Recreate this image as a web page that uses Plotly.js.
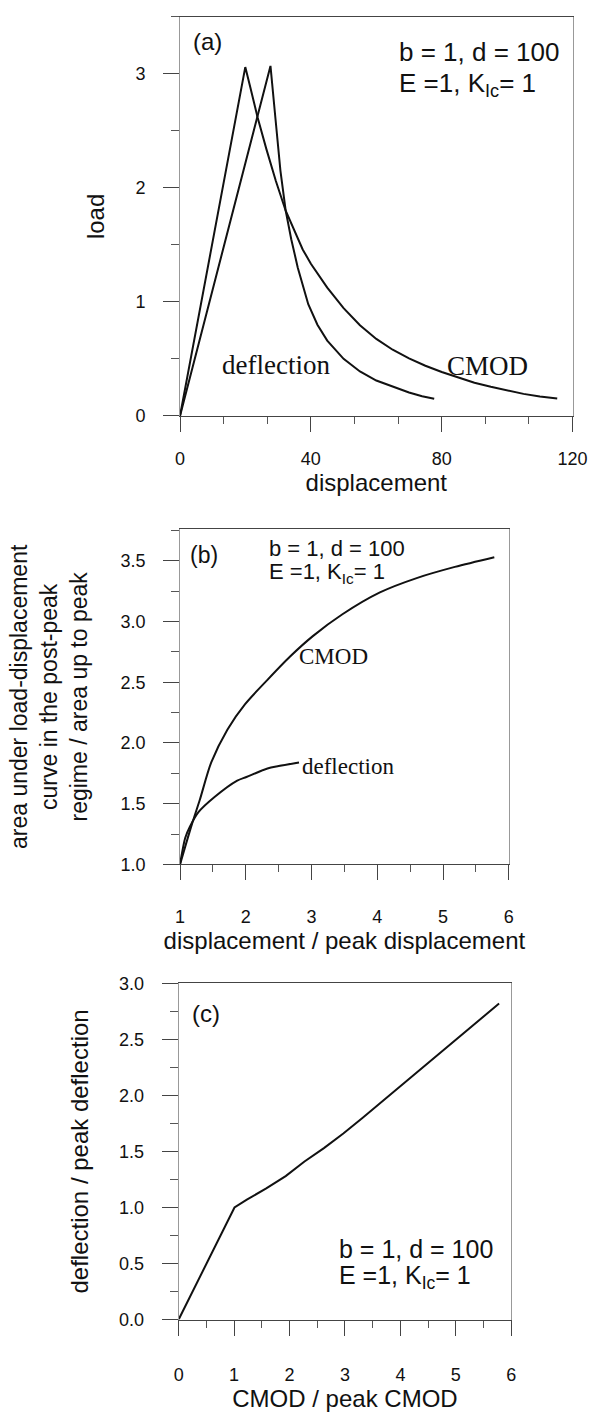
<!DOCTYPE html>
<html>
<head>
<meta charset="utf-8">
<script src="https://cdn.plot.ly/plotly-3.0.1.min.js"></script>
<style>html,body{margin:0;padding:0;background:#fff;}#chart{width:605px;height:1414px;}</style>
</head>
<body>
<div id="chart"></div>
<script>
// Panel (a): load vs displacement
const aCmodX = [0, 19.95, 21.5, 23.7, 26.4, 29.3, 32.3, 35, 37.5, 40, 42.5, 45, 50, 55, 60, 65, 70, 75, 80, 85, 90, 95, 100, 105, 110, 115.3];
const aCmodY = [0, 3.06, 2.88, 2.62, 2.34, 2.06, 1.80, 1.615, 1.46, 1.335, 1.225, 1.125, 0.945, 0.795, 0.675, 0.58, 0.505, 0.44, 0.385, 0.335, 0.29, 0.255, 0.222, 0.193, 0.17, 0.153];
const aDefX = [0, 27.65, 29.2, 30.7, 32.3, 34, 36, 37.5, 39.2, 42, 45, 50, 55, 60, 65, 70, 74, 77.7];
const aDefY = [0, 3.07, 2.60, 2.15, 1.80, 1.55, 1.30, 1.14, 0.98, 0.80, 0.66, 0.50, 0.39, 0.31, 0.255, 0.205, 0.172, 0.15];

// Panel (b): area ratio vs displacement / peak displacement
const bCmodX = [1, 1.18, 1.3, 1.475, 1.72, 1.99, 2.33, 2.67, 3.02, 3.47, 4.04, 4.61, 5.18, 5.78];
const bCmodY = [1, 1.33, 1.53, 1.84, 2.11, 2.32, 2.52, 2.71, 2.88, 3.06, 3.24, 3.36, 3.45, 3.53];
const bDefX = [1, 1.08, 1.15, 1.28, 1.525, 1.87, 2.01, 2.33, 2.5, 2.81];
const bDefY = [1, 1.22, 1.31, 1.43, 1.555, 1.69, 1.72, 1.79, 1.81, 1.84];

// Panel (c): deflection / peak deflection vs CMOD / peak CMOD
const cX = [0, 1.007, 1.23, 1.58, 1.93, 2.27, 2.62, 2.97, 3.32, 3.67, 4.25, 5.0, 5.78];
const cY = [0, 1.0, 1.07, 1.17, 1.28, 1.41, 1.53, 1.66, 1.80, 1.945, 2.18, 2.49, 2.82];

const params1 = 'b = 1, d = 100';
const params2 = 'E =1, K<sub>Ic</sub>= 1';

const sans = 'Liberation Sans, Arial, sans-serif';
const serif = 'Liberation Serif, Times New Roman, serif';
const lineStyle = {color: '#111', width: 2};
const smoothLine = {color: '#111', width: 2, shape: 'spline', smoothing: 0.8};

const traces = [
  {x: aDefX, y: aDefY, xaxis: 'x', yaxis: 'y', mode: 'lines', line: lineStyle, name: 'deflection'},
  {x: aCmodX, y: aCmodY, xaxis: 'x', yaxis: 'y', mode: 'lines', line: lineStyle, name: 'CMOD'},
  {x: bCmodX, y: bCmodY, xaxis: 'x2', yaxis: 'y2', mode: 'lines', line: smoothLine, name: 'CMOD'},
  {x: bDefX, y: bDefY, xaxis: 'x2', yaxis: 'y2', mode: 'lines', line: smoothLine, name: 'deflection'},
  {x: cX, y: cY, xaxis: 'x3', yaxis: 'y3', mode: 'lines', line: lineStyle, name: 'deflection vs CMOD'}
];

function xax(opts) {
  return Object.assign({
    showline: true, linecolor: '#444', linewidth: 1, mirror: true,
    ticks: 'outside', ticklen: 15, tickcolor: '#444', tickwidth: 1,
    showgrid: false, zeroline: false, automargin: true,
    ticklabelstandoff: 22,
    tickfont: {family: sans, size: 18, color: '#111'}
  }, opts);
}
function yax(opts) {
  return Object.assign({
    showline: true, linecolor: '#999', linewidth: 1, mirror: true,
    ticks: 'outside', ticklen: 16, tickcolor: '#444', tickwidth: 1,
    showgrid: false, zeroline: false, automargin: true,
    ticklabelstandoff: 14,
    tickfont: {family: sans, size: 18, color: '#111'}
  }, opts);
}
const W = 605, H = 1414;
function dx(a, b) { return [a / W, b / W]; }
function dy(top, bottom) { return [1 - bottom / H, 1 - top / H]; }

const layout = {
  width: W, height: H,
  margin: {l: 0, r: 0, t: 0, b: 0},
  paper_bgcolor: '#fff', plot_bgcolor: '#fff',
  showlegend: false,
  xaxis: xax({domain: dx(181, 587), anchor: 'y', range: [0, 120], dtick: 40, tick0: 0,
    ticklabelstandoff: 12,
    minor: {ticks: 'outside', ticklen: 7, tickcolor: '#555', dtick: 40 / 3, tick0: 0},
    title: {text: 'displacement', font: {family: sans, size: 24, color: '#111'}, standoff: 4}}),
  yaxis: yax({domain: dy(7, 411.7), anchor: 'x', range: [0, 3.5], dtick: 1, tick0: 0,
    minor: {ticks: 'outside', ticklen: 8, tickcolor: '#555', dtick: 0.5, tick0: 0},
    title: {text: 'load', font: {family: sans, size: 24, color: '#111'}, standoff: 23}}),
  xaxis2: xax({domain: dx(181, 521), anchor: 'y2', range: [1, 6], dtick: 1, tick0: 0,
    ticklabelstandoff: 21,
    minor: {ticks: 'outside', ticklen: 7, tickcolor: '#555', dtick: 0.5, tick0: 0},
    title: {text: 'displacement / peak displacement', font: {family: sans, size: 24, color: '#111'}, standoff: 0}}),
  yaxis2: yax({domain: dy(526.7, 866.7), anchor: 'x2', range: [1, 3.76], dtick: 0.5, tick0: 0, tickformat: '.1f',
    minor: {ticks: 'outside', ticklen: 8, tickcolor: '#555', dtick: 0.25, tick0: 0},
    title: {text: 'area under load-displacement<br>curve in the post-peak<br>regime / area up to peak', font: {family: sans, size: 23, color: '#111'}, standoff: 26}}),
  xaxis3: xax({domain: dx(179.6, 523.6), anchor: 'y3', range: [0, 6], dtick: 1, tick0: 0,
    ticklabelstandoff: 24,
    minor: {ticks: 'outside', ticklen: 7, tickcolor: '#555', dtick: 0.5, tick0: 0},
    title: {text: 'CMOD / peak CMOD', font: {family: sans, size: 24, color: '#111'}, standoff: 2}}),
  yaxis3: yax({domain: dy(987.3, 1328.3), anchor: 'x3', range: [0, 3], dtick: 0.5, tick0: 0, tickformat: '.1f',
    minor: {ticks: 'outside', ticklen: 8, tickcolor: '#555', dtick: 0.25, tick0: 0},
    title: {text: 'deflection / peak deflection', font: {family: sans, size: 24, color: '#111'}, standoff: 23}}),
  annotations: [
    {xref: 'x', yref: 'y', x: 8.3, y: 3.28, text: '(a)', showarrow: false, xanchor: 'center', yanchor: 'middle', font: {family: sans, size: 24, color: '#111'}},
    {xref: 'x', yref: 'y', x: 66.4, y: 3.19, text: params1, showarrow: false, xanchor: 'left', yanchor: 'middle', font: {family: sans, size: 26, color: '#111'}},
    {xref: 'x', yref: 'y', x: 66.4, y: 2.91, text: params2, showarrow: false, xanchor: 'left', yanchor: 'middle', font: {family: sans, size: 26, color: '#111'}},
    {xref: 'x', yref: 'y', x: 29.2, y: 0.45, text: 'deflection', showarrow: false, xanchor: 'center', yanchor: 'middle', font: {family: serif, size: 27, color: '#111'}},
    {xref: 'x', yref: 'y', x: 94, y: 0.44, text: 'CMOD', showarrow: false, xanchor: 'center', yanchor: 'middle', font: {family: serif, size: 27, color: '#111'}},

    {xref: 'x2', yref: 'y2', x: 1.36, y: 3.55, text: '(b)', showarrow: false, xanchor: 'center', yanchor: 'middle', font: {family: sans, size: 23, color: '#111'}},
    {xref: 'x2', yref: 'y2', x: 2.33, y: 3.6, text: params1, showarrow: false, xanchor: 'left', yanchor: 'middle', font: {family: sans, size: 22, color: '#111'}},
    {xref: 'x2', yref: 'y2', x: 2.33, y: 3.40, text: params2, showarrow: false, xanchor: 'left', yanchor: 'middle', font: {family: sans, size: 22, color: '#111'}},
    {xref: 'x2', yref: 'y2', x: 3.34, y: 2.71, text: 'CMOD', showarrow: false, xanchor: 'center', yanchor: 'middle', font: {family: serif, size: 23, color: '#111'}},
    {xref: 'x2', yref: 'y2', x: 3.55, y: 1.81, text: 'deflection', showarrow: false, xanchor: 'center', yanchor: 'middle', font: {family: serif, size: 23, color: '#111'}},

    {xref: 'x3', yref: 'y3', x: 0.5, y: 2.73, text: '(c)', showarrow: false, xanchor: 'center', yanchor: 'middle', font: {family: sans, size: 24, color: '#111'}},
    {xref: 'x3', yref: 'y3', x: 2.85, y: 0.63, text: params1, showarrow: false, xanchor: 'left', yanchor: 'middle', font: {family: sans, size: 25, color: '#111'}},
    {xref: 'x3', yref: 'y3', x: 2.85, y: 0.38, text: params2, showarrow: false, xanchor: 'left', yanchor: 'middle', font: {family: sans, size: 25, color: '#111'}}
  ]
};

Plotly.newPlot('chart', traces, layout, {staticPlot: true, displayModeBar: false});
</script>
</body>
</html>
